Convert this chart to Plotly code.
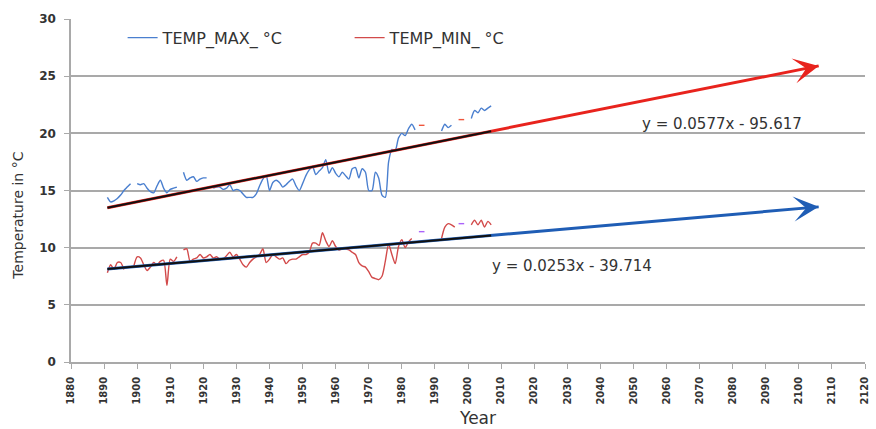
import plotly.graph_objects as go

# ---------------- data ----------------
YEARS = list(range(1891, 2008))

TEMP_MAX = [
    14.4, 14.0, 14.1, 14.3, 14.6, 15.0, 15.3, 15.6, None,            # 1891-1899
    15.6, 15.5, 15.6, 15.2, 14.9, 14.8, 15.4, 15.9, 15.2, 14.8,      # 1900-1909
    15.1, 15.2, 15.3, None, 16.6, 15.9, 16.1, 16.2, 15.8, 16.0,      # 1910-1919
    16.1, 16.1, None, 15.2, 15.3, 15.3, 15.1, 15.2, 15.5, 15.0,      # 1920-1929
    15.1, 15.0, 14.7, 14.4, 14.4, 14.4, 14.7, 15.4, 16.0, 16.3,      # 1930-1939
    15.0, 15.7, 15.9, 15.7, 15.3, 15.5, 15.8, 16.0, 15.4, 15.0,      # 1940-1949
    15.6, 16.3, 16.8, 17.1, 16.4, 16.7, 17.0, 17.7, 16.5, 17.0,      # 1950-1959
    16.5, 16.2, 16.6, 16.3, 16.0, 16.9, 17.0, 16.1, 16.9, 16.6,      # 1960-1969
    15.0, 15.0, 16.6, 16.1, 14.6, 14.4, 17.5, 18.6, 18.5, 19.6,      # 1970-1979
    20.0, 19.8, 20.4, 20.8, 20.3, None, 20.7, None, None, None,      # 1980-1989
    None, None, 20.2, 20.8, 20.5, 20.7, None, None, 21.2, None,      # 1990-1999
    None, 21.3, 22.0, 21.8, 22.2, 22.0, 22.2, 22.4,                  # 2000-2007
]

TEMP_MIN = [
    7.8, 8.5, 8.1, 8.7, 8.7, 8.1, None, None, 8.4,                   # 1891-1899
    9.2, 9.1, 8.5, 8.0, 8.3, 8.7, 8.5, 8.8, 8.9, 6.7,                # 1900-1909
    9.0, 8.8, 9.2, None, 9.8, 9.9, 8.8, 9.0, 9.1, 9.4,               # 1910-1919
    9.1, 9.2, 9.4, 9.1, 9.2, 9.0, 9.0, 9.3, 9.6, 9.2,                # 1920-1929
    9.4, 9.0, 8.5, 8.3, 8.7, 9.0, 9.2, 9.4, 9.9, 8.7,                # 1930-1939
    9.0, 9.4, 9.2, 9.0, 9.1, 8.6, 8.9, 9.0, 9.0, 9.2,                # 1940-1949
    9.4, 9.4, 9.6, 10.4, 10.4, 10.2, 11.3, 10.6, 10.1, 10.6,         # 1950-1959
    10.1, 9.8, 9.9, 9.9, 9.8, 9.6, 9.4, 8.7, 8.4, 8.3,               # 1960-1969
    7.9, 7.4, 7.3, 7.2, 7.5, 8.8, 10.3, 9.4, 8.6, 10.1,              # 1970-1979
    10.7, 10.0, 10.5, 10.8, None, None, 11.4, None, None, None,      # 1980-1989
    None, None, 10.8, 11.8, 12.1, 12.0, 11.8, None, 12.1, None,      # 1990-1999
    None, 12.0, 12.4, 12.0, 12.4, 11.8, 12.3, 12.0,                  # 2000-2007
]

SERIES_NAMES = ["TEMP_MAX_ °C", "TEMP_MIN_ °C"]

# linear trends (from the equations printed on the chart)
TREND_SLOPE = [0.0577, 0.0253]
TREND_INTERCEPT = [-95.617, -39.714]
TREND_LABELS = ["y = 0.0577x - 95.617", "y = 0.0253x - 39.714"]
TREND_START = 1891
TREND_FIT_END = 2007
TREND_PROJ_END = 2106

X_TICKS = list(range(1880, 2121, 10))
Y_TICKS = [0, 5, 10, 15, 20, 25, 30]

# ---------------- styles ----------------
SERIES_COLORS = ["#4a7fcf", "#d24a4a"]
ARROW_COLORS = ["#e8231d", "#1f5db5"]
GRID = "#a9a9a9"
TXT = "#333333"
FONT = "DejaVu Sans"

fig = go.Figure()

for name, vals, col in zip(SERIES_NAMES, [TEMP_MAX, TEMP_MIN], SERIES_COLORS):
    fig.add_trace(go.Scatter(
        x=YEARS, y=vals, mode="lines", name=name,
        line=dict(color=col, width=1.4, shape="spline", smoothing=0.7),
        connectgaps=False,
    ))
    # isolated points (single years between gaps)
    iso_x, iso_y = [], []
    for i, v in enumerate(vals):
        if v is None:
            continue
        prev_none = i == 0 or vals[i - 1] is None
        next_none = i == len(vals) - 1 or vals[i + 1] is None
        if prev_none and next_none:
            iso_x.append(YEARS[i])
            iso_y.append(v)
    fig.add_trace(go.Scatter(
        x=iso_x, y=iso_y, mode="markers", showlegend=False, hoverinfo="skip",
        marker=dict(symbol="line-ew-open", size=4, line=dict(color=col, width=1.4)),
    ))

# trend lines: coloured projection + black fitted segment + arrow head
for k in range(2):
    m, b = TREND_SLOPE[k], TREND_INTERCEPT[k]
    xs = [TREND_START, TREND_PROJ_END]
    fig.add_trace(go.Scatter(
        x=xs, y=[m * x + b for x in xs], mode="lines", showlegend=False,
        hoverinfo="skip", line=dict(color=ARROW_COLORS[k], width=3),
    ))
    xf = [TREND_START, TREND_FIT_END]
    fig.add_trace(go.Scatter(
        x=xf, y=[m * x + b for x in xf], mode="lines", showlegend=False,
        hoverinfo="skip", line=dict(color="#111111", width=2),
    ))
    x_tail = TREND_PROJ_END - 4
    fig.add_annotation(
        x=TREND_PROJ_END, y=m * TREND_PROJ_END + b,
        ax=x_tail, ay=m * x_tail + b, axref="x", ayref="y",
        xref="x", yref="y", text="", showarrow=True,
        arrowhead=3, arrowsize=1.4, arrowwidth=3, arrowcolor=ARROW_COLORS[k],
    )

# equation labels
fig.add_annotation(x=2052, y=20.8, xref="x", yref="y", text=TREND_LABELS[0],
                   showarrow=False, xanchor="left", yanchor="middle",
                   font=dict(family=FONT, size=15, color=TXT))
fig.add_annotation(x=2006.5, y=8.4, xref="x", yref="y", text=TREND_LABELS[1],
                   showarrow=False, xanchor="left", yanchor="middle",
                   font=dict(family=FONT, size=15, color=TXT))

# axis titles
fig.add_annotation(x=0, y=12.8, xref="paper", yref="y", text="Temperature in °C",
                   textangle=-90, showarrow=False, xanchor="center", yanchor="middle",
                   xshift=-53, font=dict(family=FONT, size=14, color=TXT))
fig.add_annotation(x=2003, y=0, xref="x", yref="paper", text="Year",
                   showarrow=False, xanchor="center", yanchor="middle",
                   yshift=-56, font=dict(family=FONT, size=17, color=TXT))

fig.update_layout(
    width=876, height=429,
    margin=dict(l=71, r=6, t=19, b=67),
    paper_bgcolor="white", plot_bgcolor="white",
    font=dict(family=FONT, color=TXT),
    showlegend=True,
    legend=dict(
        orientation="h", x=0.065, y=0.995, xanchor="left", yanchor="top",
        bgcolor="rgba(0,0,0,0)", font=dict(family=FONT, size=16, color=TXT),
        entrywidth=182, entrywidthmode="pixels", traceorder="normal",
    ),
    xaxis=dict(
        range=[1880, 2120], tickvals=X_TICKS, ticktext=[str(t) for t in X_TICKS],
        tickangle=-90, tickfont=dict(family=FONT, size=10, color=TXT, weight="bold"),
        ticks="outside", ticklen=5, tickcolor=GRID, ticklabelstandoff=4,
        showline=True, linecolor=GRID, linewidth=1.5, showgrid=False, zeroline=False,
    ),
    yaxis=dict(
        range=[0, 30], tickvals=Y_TICKS, ticktext=[str(t) for t in Y_TICKS],
        tickfont=dict(family=FONT, size=12, color=TXT, weight="bold"),
        ticks="outside", ticklen=5, tickcolor=GRID, ticklabelstandoff=6,
        showline=True, linecolor=GRID, linewidth=1.5,
        showgrid=True, gridcolor=GRID, gridwidth=1.5, zeroline=False,
    ),
)

fig.write_html("out.html")
